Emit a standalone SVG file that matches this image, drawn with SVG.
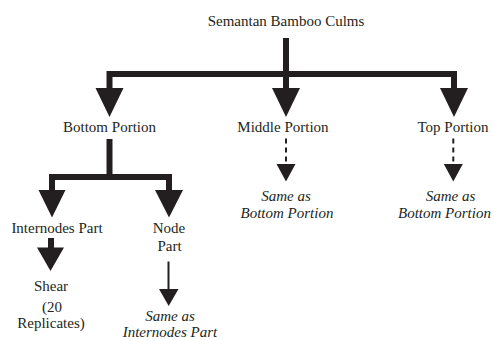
<svg xmlns="http://www.w3.org/2000/svg" width="494" height="340" viewBox="0 0 494 340">
<style>
text{font-family:"Liberation Serif","Times New Roman",serif;font-size:15px;fill:#231f20;text-anchor:middle}
.i{font-style:italic}
.thick{fill:none;stroke:#231f20;stroke-width:6;stroke-linejoin:miter;stroke-linecap:butt}
.thin{fill:none;stroke:#231f20;stroke-width:2}
.dash{fill:none;stroke:#231f20;stroke-width:2;stroke-dasharray:5 4}
.head{fill:#231f20}
</style>
<rect width="494" height="340" fill="#fff"/>
<g id="connectors">
<path class="thick" d="M286,38 V88"/>
<path class="thick" d="M109.5,88 V74 H454 V88"/>
<polygon class="head" points="95.5,88 123.5,88 109.5,117"/>
<polygon class="head" points="272,88 300,88 286,117"/>
<polygon class="head" points="440,88 468,88 454,117"/>
<path class="thick" d="M109.5,139 V177"/>
<path class="thick" d="M52,190 V177 H169 V190"/>
<polygon class="head" points="38.5,190 65.5,190 52,217.5"/>
<polygon class="head" points="155,190 183,190 169,217.5"/>
<path class="thick" d="M51,238 V248"/>
<polygon class="head" points="37,247.5 64,247.5 50.5,271"/>
<path class="thin" d="M168.5,261.5 V290"/>
<polygon class="head" points="159,289 178.5,289 168.7,306"/>
<path class="dash" d="M286,138.5 V164"/>
<polygon class="head" points="276.5,164 295.5,164 286,181.5"/>
<path class="dash" d="M453.3,138.5 V164"/>
<polygon class="head" points="443.8,164 462.8,164 453.3,181.5"/>
</g>
<g id="root"><text x="286" y="25.5">Semantan Bamboo Culms</text></g>
<g id="bottom"><text x="109.5" y="131.5">Bottom Portion</text></g>
<g id="middle"><text x="283" y="131.5">Middle Portion</text></g>
<g id="top"><text x="453" y="131.5">Top Portion</text></g>
<g id="middle-same"><text class="i" x="286" y="201">Same as</text><text class="i" x="287" y="218">Bottom Portion</text></g>
<g id="top-same"><text class="i" x="450.5" y="201">Same as</text><text class="i" x="444.5" y="218">Bottom Portion</text></g>
<g id="internodes"><text x="57" y="232.5">Internodes Part</text></g>
<g id="node"><text x="169" y="233">Node</text><text x="169.5" y="251">Part</text></g>
<g id="shear"><text x="51" y="291">Shear</text><text x="52" y="312">(20</text><text x="51" y="328">Replicates)</text></g>
<g id="node-same"><text class="i" x="170" y="320.5">Same as</text><text class="i" x="170" y="337">Internodes Part</text></g>
</svg>
